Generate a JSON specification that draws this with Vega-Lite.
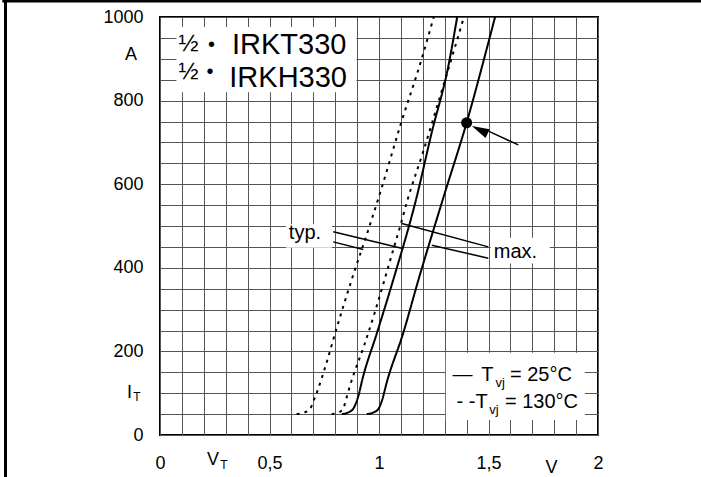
{
  "$schema": "https://vega.github.io/schema/vega-lite/v6.json",
  "width": 438,
  "height": 418,
  "autosize": {"type": "none"},
  "padding": {"left": 160, "top": 17, "right": 103, "bottom": 42},
  "background": "white",
  "config": {
    "view": {"stroke": "black", "strokeWidth": 2},
    "font": "Liberation Sans",
    "text": {"font": "Liberation Sans", "color": "black"}
  },
  "datasets": {
    "curves": [
      {"curve": "A", "temp": "130", "v": 0.624, "i": 50},
      {"curve": "A", "temp": "130", "v": 0.66, "i": 54},
      {"curve": "A", "temp": "130", "v": 0.685, "i": 62},
      {"curve": "A", "temp": "130", "v": 0.70, "i": 80},
      {"curve": "A", "temp": "130", "v": 0.715, "i": 100},
      {"curve": "A", "temp": "130", "v": 0.76, "i": 172},
      {"curve": "A", "temp": "130", "v": 0.80, "i": 244},
      {"curve": "A", "temp": "130", "v": 0.875, "i": 371},
      {"curve": "A", "temp": "130", "v": 0.96, "i": 505},
      {"curve": "A", "temp": "130", "v": 1.005, "i": 579},
      {"curve": "A", "temp": "130", "v": 1.10, "i": 745},
      {"curve": "A", "temp": "130", "v": 1.195, "i": 900},
      {"curve": "A", "temp": "130", "v": 1.25, "i": 1000},
      {"curve": "B", "temp": "130", "v": 0.784, "i": 50},
      {"curve": "B", "temp": "130", "v": 0.82, "i": 55},
      {"curve": "B", "temp": "130", "v": 0.84, "i": 68},
      {"curve": "B", "temp": "130", "v": 0.855, "i": 95},
      {"curve": "B", "temp": "130", "v": 0.87, "i": 122},
      {"curve": "B", "temp": "130", "v": 0.93, "i": 211},
      {"curve": "B", "temp": "130", "v": 0.98, "i": 292},
      {"curve": "B", "temp": "130", "v": 1.025, "i": 371},
      {"curve": "B", "temp": "130", "v": 1.065, "i": 443},
      {"curve": "B", "temp": "130", "v": 1.096, "i": 498},
      {"curve": "B", "temp": "130", "v": 1.13, "i": 562},
      {"curve": "B", "temp": "130", "v": 1.20, "i": 675},
      {"curve": "B", "temp": "130", "v": 1.294, "i": 836},
      {"curve": "B", "temp": "130", "v": 1.388, "i": 1000},
      {"curve": "C", "temp": "25", "v": 0.83, "i": 50},
      {"curve": "C", "temp": "25", "v": 0.86, "i": 54},
      {"curve": "C", "temp": "25", "v": 0.885, "i": 65},
      {"curve": "C", "temp": "25", "v": 0.905, "i": 92},
      {"curve": "C", "temp": "25", "v": 0.925, "i": 135},
      {"curve": "C", "temp": "25", "v": 0.99, "i": 243},
      {"curve": "C", "temp": "25", "v": 1.065, "i": 371},
      {"curve": "C", "temp": "25", "v": 1.17, "i": 565},
      {"curve": "C", "temp": "25", "v": 1.24, "i": 722},
      {"curve": "C", "temp": "25", "v": 1.316, "i": 881},
      {"curve": "C", "temp": "25", "v": 1.357, "i": 1000},
      {"curve": "D", "temp": "25", "v": 0.944, "i": 50},
      {"curve": "D", "temp": "25", "v": 0.975, "i": 54},
      {"curve": "D", "temp": "25", "v": 0.997, "i": 62},
      {"curve": "D", "temp": "25", "v": 1.015, "i": 85},
      {"curve": "D", "temp": "25", "v": 1.035, "i": 125},
      {"curve": "D", "temp": "25", "v": 1.11, "i": 243},
      {"curve": "D", "temp": "25", "v": 1.18, "i": 371},
      {"curve": "D", "temp": "25", "v": 1.294, "i": 568},
      {"curve": "D", "temp": "25", "v": 1.40, "i": 747},
      {"curve": "D", "temp": "25", "v": 1.495, "i": 930},
      {"curve": "D", "temp": "25", "v": 1.53, "i": 1000}
    ],
    "boxes": [
      {"name": "title", "v": 0.075, "v2": 0.897, "i": 820, "i2": 976},
      {"name": "legend", "v": 1.305, "v2": 1.94, "i": 36, "i2": 197},
      {"name": "typ", "v": 0.575, "v2": 0.785, "i": 448, "i2": 504},
      {"name": "max", "v": 1.51, "v2": 1.78, "i": 410, "i2": 472}
    ],
    "leaders": [
      {"name": "typ1", "v": 0.791, "i": 486, "v2": 1.103, "i2": 447},
      {"name": "typ2", "v": 0.791, "i": 462, "v2": 0.928, "i2": 444},
      {"name": "max1", "v": 1.104, "i": 506, "v2": 1.499, "i2": 450},
      {"name": "max2", "v": 1.241, "i": 454, "v2": 1.499, "i2": 423},
      {"name": "arrow", "v": 1.636, "i": 694, "v2": 1.50, "i2": 727}
    ],
    "border": [
      {"name": "left", "v": -0.7055, "i": -120, "v2": -0.7055, "i2": 1038},
      {"name": "top", "v": -0.72, "i": 1038, "v2": 2.5, "i2": 1038}
    ]
  },
  "encoding": {
    "x": {
      "field": "v", "type": "quantitative",
      "scale": {"domain": [0, 2], "nice": false, "zero": false},
      "axis": {
        "title": null,
        "values": [0, 0.1, 0.2, 0.3, 0.4, 0.5, 0.6, 0.7, 0.8, 0.9, 1, 1.1, 1.2, 1.3, 1.4, 1.5, 1.6, 1.7, 1.8, 1.9, 2],
        "grid": true, "gridColor": "#555555", "gridWidth": 1, "gridOpacity": 1,
        "domain": false, "ticks": false, "tickSize": 0,
        "labelExpr": "datum.value==0?'0':datum.value==0.5?'0,5':datum.value==1?'1':datum.value==1.5?'1,5':datum.value==2?'2':''",
        "labelFontSize": 18, "labelColor": "black", "labelFont": "Liberation Sans",
        "labelBaseline": "middle", "labelPadding": 28,
        "labelOverlap": false, "labelFlush": false, "labelBound": false
      }
    },
    "y": {
      "field": "i", "type": "quantitative",
      "scale": {"domain": [0, 1000], "nice": false, "zero": false},
      "axis": {
        "title": null,
        "values": [0, 50, 100, 150, 200, 250, 300, 350, 400, 450, 500, 550, 600, 650, 700, 750, 800, 850, 900, 950, 1000],
        "grid": true, "gridColor": "#555555", "gridWidth": 1, "gridOpacity": 1,
        "domain": false, "ticks": false, "tickSize": 0,
        "labelExpr": "datum.value % 200 == 0 ? format(datum.value, 'd') : ''",
        "labelFontSize": 18, "labelColor": "black", "labelFont": "Liberation Sans",
        "labelPadding": 17,
        "labelOverlap": false, "labelFlush": false, "labelBound": false
      }
    }
  },
  "layer": [
    {
      "data": {"name": "boxes"},
      "mark": {"type": "rect", "color": "white", "opacity": 1},
      "encoding": {
        "x2": {"field": "v2"},
        "y2": {"field": "i2"}
      }
    },
    {
      "data": {"name": "curves"},
      "mark": {"type": "line", "interpolate": "monotone", "color": "black", "strokeWidth": 2},
      "encoding": {
        "detail": {"field": "curve"},
        "strokeDash": {
          "field": "temp", "type": "nominal",
          "scale": {"domain": ["25", "130"], "range": [[1, 0], [3, 5]]},
          "legend": null
        }
      }
    },
    {
      "data": {"name": "leaders"},
      "mark": {"type": "rule", "color": "black", "strokeWidth": 1.5},
      "encoding": {
        "x2": {"field": "v2"},
        "y2": {"field": "i2"}
      }
    },
    {
      "data": {"name": "border"},
      "mark": {"type": "rule", "color": "black", "strokeWidth": 3},
      "encoding": {
        "x2": {"field": "v2"},
        "y2": {"field": "i2"}
      }
    },
    {
      "data": {"values": [{"v": 1.46, "i": 730}]},
      "mark": {"type": "point", "shape": "M0,-1L0.55,1L-0.55,1Z", "filled": true, "color": "black", "opacity": 1, "size": 306, "angle": 295.5},
      "encoding": {}
    },
    {
      "data": {"values": [{"v": 1.40, "i": 747}]},
      "mark": {"type": "point", "shape": "circle", "filled": true, "color": "black", "opacity": 1, "size": 121},
      "encoding": {}
    },
    {
      "data": {"values": [
        {"t": "A", "v": -0.132, "i": 909},
        {"t": "I", "v": -0.139, "i": 100},
        {"t": "V", "v": 0.242, "i": -60},
        {"t": "V", "v": 1.788, "i": -79}
      ]},
      "mark": {"type": "text", "fontSize": 18, "align": "center", "baseline": "middle"},
      "encoding": {"text": {"field": "t"}}
    },
    {
      "data": {"values": [
        {"t": "T", "v": -0.105, "i": 90},
        {"t": "T", "v": 0.292, "i": -72}
      ]},
      "mark": {"type": "text", "fontSize": 12, "align": "center", "baseline": "middle"},
      "encoding": {"text": {"field": "t"}}
    },
    {
      "data": {"values": [
        {"t": "typ.", "v": 0.662, "i": 483},
        {"t": "max.", "v": 1.623, "i": 438},
        {"t": "—", "v": 1.381, "i": 144},
        {"t": "T", "v": 1.495, "i": 144},
        {"t": "- -", "v": 1.397, "i": 79},
        {"t": "T", "v": 1.468, "i": 79},
        {"t": "•", "v": 0.235, "i": 933},
        {"t": "•", "v": 0.228, "i": 869}
      ]},
      "mark": {"type": "text", "fontSize": 20, "align": "center", "baseline": "middle"},
      "encoding": {"text": {"field": "t"}}
    },
    {
      "data": {"values": [
        {"t": "vj", "v": 1.553, "i": 124},
        {"t": "vj", "v": 1.525, "i": 59}
      ]},
      "mark": {"type": "text", "fontSize": 13, "align": "center", "baseline": "middle"},
      "encoding": {"text": {"field": "t"}}
    },
    {
      "data": {"values": [
        {"t": "=  25°C", "v": 1.598, "i": 144},
        {"t": "= 130°C", "v": 1.575, "i": 79}
      ]},
      "mark": {"type": "text", "fontSize": 20, "align": "left", "baseline": "middle"},
      "encoding": {"text": {"field": "t"}}
    },
    {
      "data": {"values": [
        {"t": "½", "v": 0.13, "i": 936},
        {"t": "½", "v": 0.13, "i": 869}
      ]},
      "mark": {"type": "text", "fontSize": 24, "align": "center", "baseline": "middle"},
      "encoding": {"text": {"field": "t"}}
    },
    {
      "data": {"values": [
        {"t": "IRKT330", "v": 0.59, "i": 933},
        {"t": "IRKH330", "v": 0.585, "i": 854}
      ]},
      "mark": {"type": "text", "fontSize": 29, "align": "center", "baseline": "middle"},
      "encoding": {"text": {"field": "t"}}
    }
  ]
}
